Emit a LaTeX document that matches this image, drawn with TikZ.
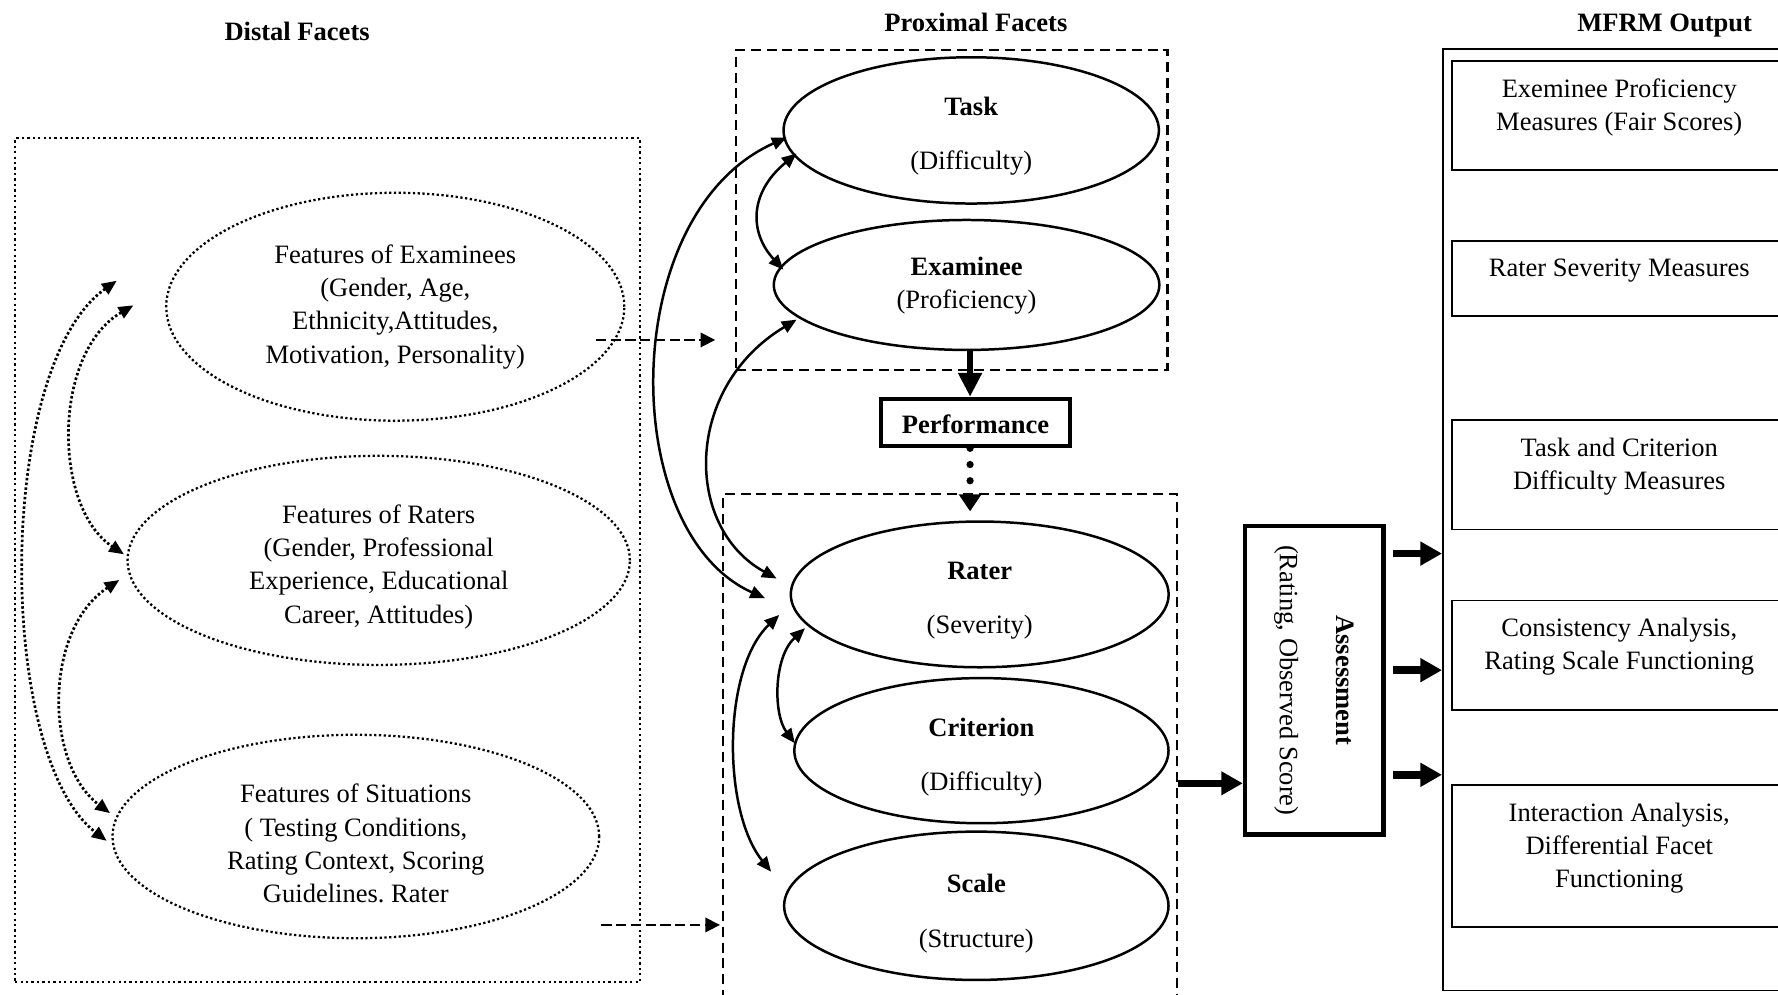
\documentclass[tikz,border=0pt]{standalone}
\usepackage{fontspec}
\setmainfont{Liberation Serif}
\usetikzlibrary{arrows.meta,shapes.geometric}
\newcommand{\toprule}[1]{\rule{0pt}{#1}}
\frenchspacing
\begin{document}
\begin{tikzpicture}[x=0.5pt,y=-0.5pt,
  every node/.style={font=\fontsize{11.7}{14.7}\selectfont, align=center, inner sep=0pt},
  titletxt/.style={font=\fontsize{11.7}{14.7}\selectfont\bfseries, anchor=base},
  distell/.style={ellipse, draw, line width=1pt, dash pattern=on 1pt off 1.1pt},
  proxell/.style={ellipse, draw, line width=1.1pt},
  dotbox/.style={draw, line width=1pt, dash pattern=on 1pt off 1.4pt},
  dashbox/.style={draw, line width=0.9pt, dash pattern=on 4.4pt off 2.6pt},
  outbox/.style={draw, line width=0.8pt},
  dotcurve/.style={line width=1.2pt, dash pattern=on 1.1pt off 1pt, {Triangle[length=6.5pt,width=5.5pt]}-{Triangle[length=6.5pt,width=5.5pt]}},
  solcurve/.style={line width=1.1pt, {Triangle[length=6.5pt,width=5.5pt]}-{Triangle[length=6.5pt,width=5.5pt]}},
  dasharrow/.style={line width=1.2pt, dash pattern=on 4.5pt off 2pt, -{Triangle[length=6.5pt,width=6.3pt]}},
  bigarrow/.style={line width=3.3pt, -{Triangle[length=9.5pt,width=10pt]}},
]
\useasboundingbox (0,0) rectangle (1568,877);
\clip (0,0) rectangle (1568,877);

% titles
\node[titletxt] (tdist) at (262,36) {Distal Facets};
\node[titletxt] (tprox) at (860.6,27.5) {Proximal Facets};
\node[titletxt] (tmfrm) at (1468,28) {MFRM Output};

% distal
\node[dotbox, minimum width=275.65pt, minimum height=371.85pt] (distal) at (289,493.85) {};
\node[distell, minimum width=202pt, minimum height=100.5pt] (fe) at (348.6,270.5)
  {Features of Examinees\\(Gender, Age,\\Ethnicity,Attitudes,\\Motivation, Personality)};
\node[distell, minimum width=221.5pt, minimum height=92.2pt] (fr) at (334,494.2)
  {\toprule{13.7pt}Features of Raters\\(Gender, Professional\\Experience, Educational\\Career, Attitudes)};
\node[distell, minimum width=214.6pt, minimum height=89.7pt] (fs) at (313.8,737.7)
  {\toprule{14.6pt}Features of Situations\\( Testing Conditions,\\Rating Context, Scoring\\Guidelines. Rater};

% proximal
\node[dashbox, minimum width=190.4pt, minimum height=141.2pt] (topbox) at (839.2,185.2) {};
\node[dashbox, minimum width=200.25pt, minimum height=234.7pt] (botbox) at (837.75,670.3) {};
\node[proxell, minimum width=165.5pt, minimum height=64.5pt] (task) at (856.5,115)
  {\toprule{13pt}\textbf{Task}\\[9.3pt](Difficulty)};
\node[proxell, minimum width=170pt, minimum height=57.3pt] (exam) at (852.4,251.3)
  {\toprule{9pt}\textbf{Examinee}\\(Proficiency)};
\node[draw, line width=1.75pt, minimum width=83.5pt, minimum height=21pt] (perf) at (860.3,372.6)
  {\toprule{9.5pt}\textbf{Performance}};
\node[proxell, minimum width=166.6pt, minimum height=64.25pt] (rater) at (864,524.2)
  {\toprule{13pt}\textbf{Rater}\\[9.3pt](Severity)};
\node[proxell, minimum width=165pt, minimum height=64pt] (crit) at (865.5,662)
  {\toprule{14pt}\textbf{Criterion}\\[9.3pt](Difficulty)};
\node[proxell, minimum width=169.5pt, minimum height=65.4pt] (scale) at (861,798.8)
  {\toprule{15pt}\textbf{Scale}\\[9.3pt](Structure)};

% assessment
\node[draw, line width=2pt, rotate=-90, minimum width=136pt, minimum height=61pt] (assess) at (1159,600)
  {\textbf{Assessment}\\[10.5pt](Rating, Observed Score)};

% MFRM output
\node[outbox, minimum width=155.75pt, minimum height=415.25pt] (mfrm) at (1428.25,458.25) {};
\node[outbox, minimum width=147.5pt, minimum height=47.85pt] (b1) at (1428,102) {};
\node[outbox, minimum width=147.5pt, minimum height=33pt] (b2) at (1428,245.5) {};
\node[outbox, minimum width=147.5pt, minimum height=48.1pt] (b3) at (1428,418.8) {};
\node[outbox, minimum width=147.5pt, minimum height=48.4pt] (b4) at (1428,577.9) {};
\node[outbox, minimum width=147.5pt, minimum height=62.6pt] (b5) at (1428,754.9) {};
\node (t1) at (1428,94.5) {Exeminee Proficiency\\Measures (Fair Scores)};
\node (t2) at (1428,239) {Rater Severity Measures};
\node (t3) at (1428,411.5) {Task and Criterion\\Difficulty Measures};
\node (t4) at (1428,570) {Consistency Analysis,\\Rating Scale Functioning};
\node (t5) at (1428,748) {Interaction Analysis,\\Differential Facet\\Functioning};

% named end points
\coordinate (c1s) at (102.9,247.6); \coordinate (c1e) at (94,741.5);
\coordinate (c2s) at (117.6,269.3); \coordinate (c2e) at (109.3,488.8);
\coordinate (c3s) at (105.2,511.5); \coordinate (c3e) at (97,717.1);
\coordinate (cAs) at (693.7,121.3); \coordinate (cAe) at (674.6,527.5);
\coordinate (cBs) at (702.5,281.9); \coordinate (cBe) at (684.9,510.2);
\coordinate (cCs) at (702.5,135.4); \coordinate (cCe) at (690.8,237.8);
\coordinate (cDs) at (709.9,554);   \coordinate (cDe) at (701,655.5);
\coordinate (cEs) at (687.2,542.3); \coordinate (cEe) at (680,768.7);
\coordinate (d1s) at (525.5,299.8); \coordinate (d1e) at (630.8,299.8);
\coordinate (d2s) at (530.4,815.7); \coordinate (d2e) at (635,815.7);
\coordinate (ea) at (855.5,308.6);
\coordinate (ptip) at (855.5,451);
\coordinate (ya) at (0,690.8);
\coordinate (yo1) at (0,488.2);
\coordinate (yo2) at (0,591);
\coordinate (yo3) at (0,683.3);

% distal dotted curves
\draw[dotcurve] (c1s) .. controls (-4,323) and (-4,666) .. (c1e);
\draw[dotcurve] (c2s) .. controls (46.2,311) and (46.2,447) .. (c2e);
\draw[dotcurve] (c3s) .. controls (38.8,555) and (38.8,673) .. (c3e);

% dashed arrows distal -> proximal
\draw[dasharrow] (d1s) -- (d1e);
\draw[dasharrow] (d2s) -- (d2e);

% proximal solid curves
\draw[solcurve] (cAs) .. controls (544,188) and (544,469) .. (cAe);
\draw[solcurve] (cBs) .. controls (602.8,341.7) and (602.8,465) .. (cBe);
\draw[solcurve] (cCs) .. controls (660.6,170) and (660.6,205) .. (cCe);
\draw[solcurve] (cDs) .. controls (681.9,580) and (681.9,630) .. (cDe);
\draw[solcurve] (cEs) .. controls (636.8,590) and (636.8,715) .. (cEe);

% performance arrows
\draw[line width=3pt, -{Triangle[length=10.5pt,width=10pt]}] (ea) -- (ea |- perf.north);
\draw[line width=3.2pt, line cap=round, dash pattern=on 0pt off 7.15pt,
      -{Triangle[length=7.5pt,width=9.5pt]}] (perf.south -| ea) -- (ptip);

% assessment arrows
\draw[bigarrow] (botbox.east |- ya) -- (assess.south |- ya);
\draw[bigarrow, shorten <=3.25pt] (assess.north |- yo1) -- (mfrm.west |- yo1);
\draw[bigarrow, shorten <=3.25pt] (assess.north |- yo2) -- (mfrm.west |- yo2);
\draw[bigarrow, shorten <=3.25pt] (assess.north |- yo3) -- (mfrm.west |- yo3);
\end{tikzpicture}
\end{document}
